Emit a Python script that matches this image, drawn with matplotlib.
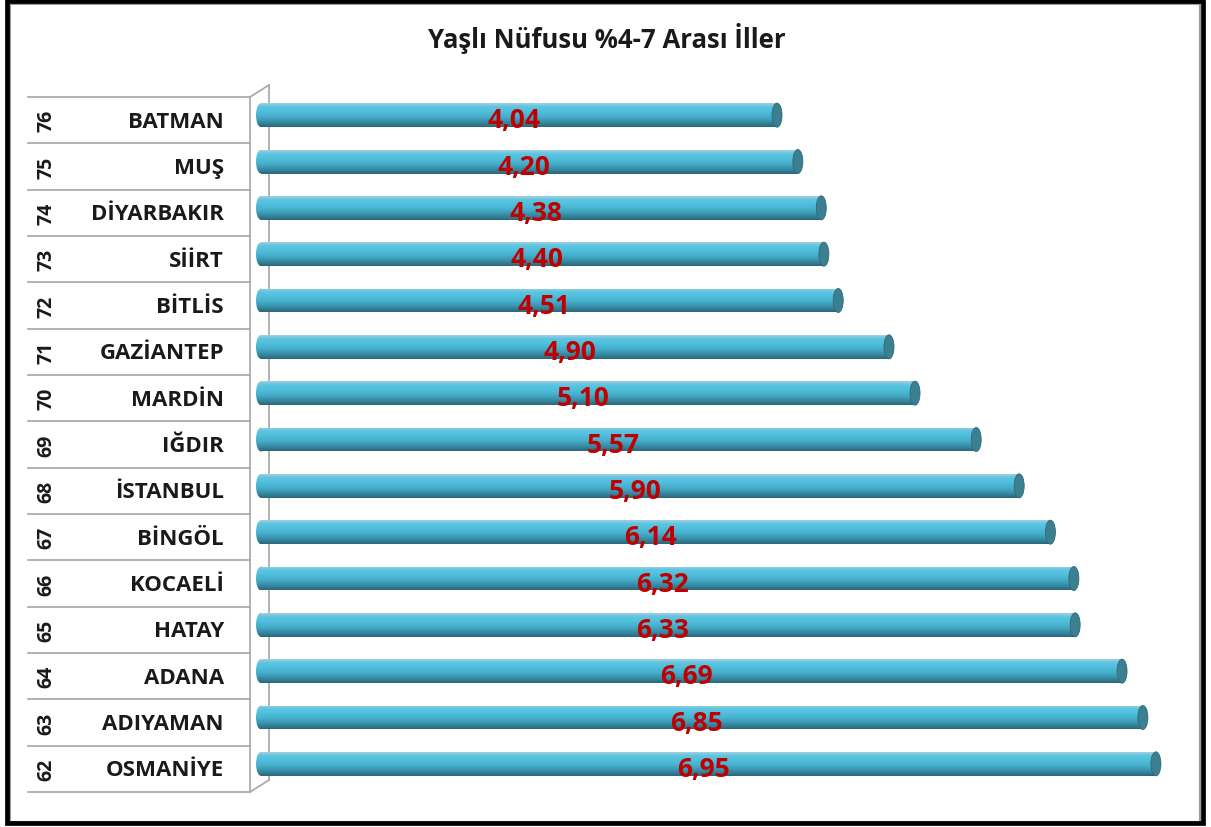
import matplotlib
matplotlib.use("Agg")
import matplotlib.pyplot as plt
import numpy as np
from matplotlib.patches import Rectangle, Ellipse
from matplotlib.colors import LinearSegmentedColormap

# ---------------- data ----------------
title = "Yaşlı Nüfusu %4-7 Arası İller"
ranks = [76, 75, 74, 73, 72, 71, 70, 69, 68, 67, 66, 65, 64, 63, 62]
provinces = ["BATMAN", "MUŞ", "DİYARBAKIR", "SİİRT", "BİTLİS", "GAZİANTEP",
             "MARDİN", "IĞDIR", "İSTANBUL", "BİNGÖL", "KOCAELİ", "HATAY",
             "ADANA", "ADIYAMAN", "OSMANİYE"]
values = [4.04, 4.20, 4.38, 4.40, 4.51, 4.90, 5.10, 5.57, 5.90, 6.14,
          6.32, 6.33, 6.69, 6.85, 6.95]
value_labels = [f"{v:.2f}".replace(".", ",") for v in values]

# ---------------- figure ----------------
W, H = 1211, 828
fig = plt.figure(figsize=(W / 100, H / 100), dpi=100)
fig.patch.set_facecolor("white")
FONT = ["Open Sans", "DejaVu Sans"]

# overlay axes in pixel coordinates for frame / table
ov = fig.add_axes([0, 0, 1, 1], zorder=0)
ov.set_xlim(0, W)
ov.set_ylim(H, 0)
ov.axis("off")

# outer frame (shadow + black border)
ov.add_patch(Rectangle((10, 5), W - 21, H - 10, fill=False, ec="#9a9a9a", lw=1.5))
ov.add_patch(Rectangle((7, 2), W - 15, H - 6, fill=False, ec="black", lw=3.4))

ov.text(607, 38, title, ha="center", va="center", fontsize=18.5,
        fontweight="bold", family=FONT, color="#1a1a1a")

# table geometry
top, bot = 98, 793
n = len(provinces)
rowh = (bot - top) / n
tbl_l, tbl_r = 28, 250
grid_c = "#a6a6a6"
for i in range(n + 1):
    y = top + i * rowh
    ov.plot([tbl_l, tbl_r], [y, y], color=grid_c, lw=1.2)
ov.plot([tbl_r, tbl_r], [top, bot], color=grid_c, lw=1.2)
# 3D wall
ov.plot([tbl_r, 269], [top, 86], color=grid_c, lw=1.2)
ov.plot([tbl_r, 269], [bot, 781], color=grid_c, lw=1.2)
ov.plot([269, 269], [86, 781], color=grid_c, lw=1.2)

for i, (r, p) in enumerate(zip(ranks, provinces)):
    yc = top + (i + 0.5) * rowh
    ov.text(46, yc, str(r), rotation=90, ha="center", va="center",
            fontsize=14, fontweight="bold", family=FONT, color="#1a1a1a")
    ov.text(224, yc + 1, p, ha="right", va="center", fontsize=16,
            fontweight="bold", family=FONT, color="#1a1a1a")

# ---------------- bar axes ----------------
px_per_unit = 130.2
x0 = 256
xmax = 7.15
ax = fig.add_axes([x0 / W, 1 - bot / H, xmax * px_per_unit / W, (bot - top) / H],
                  zorder=2)
ax.set_xlim(0, xmax)
ax.set_ylim(n - 0.5, -0.5)
ax.axis("off")
ax.patch.set_alpha(0)

ypos = np.arange(n)
offset = -5 / rowh
bh = 24 / rowh
ew = 10 / px_per_unit

grad_cols = ["#a4cfdc", "#5cc6e2", "#54c1de", "#4cb9d6", "#46aeca",
             "#3d99b3", "#34829b", "#2b6576"]
cmap = LinearSegmentedColormap.from_list("cyl", grad_cols)
grad = cmap(np.linspace(0, 1, 64))[:, None, :]

bars = ax.barh(ypos + offset, [v - ew / 2 for v in values], left=ew / 2,
               height=bh, color="none", edgecolor="none")
for rect, y, v, lab in zip(bars, ypos + offset, values, value_labels):
    yt, yb = y - bh / 2, y + bh / 2
    # left rounded end
    le = Ellipse((ew / 2, y), ew, bh, facecolor="none", edgecolor="none")
    ax.add_patch(le)
    im1 = ax.imshow(grad, extent=(0, ew, yb, yt), aspect="auto",
                    origin="upper", zorder=3, interpolation="bilinear")
    im1.set_clip_path(le)
    im2 = ax.imshow(grad, extent=(ew / 2, v - ew / 2, yb, yt), aspect="auto",
                    origin="upper", zorder=3, interpolation="bilinear")
    im2.set_clip_path(rect)
    # right cap
    ax.add_patch(Ellipse((v - ew / 2, y), ew, bh, facecolor="#3b7f91",
                         edgecolor="#2f6a7a", lw=0.6, zorder=4))
    ax.text(v / 2 - 0.04, y + 0.1, lab, ha="center", va="center",
            fontsize=19, fontweight="bold", family=FONT, color="#c00000",
            zorder=5)
ax.set_xlim(0, xmax)
ax.set_ylim(n - 0.5, -0.5)

fig.savefig("out.png", dpi=100)
